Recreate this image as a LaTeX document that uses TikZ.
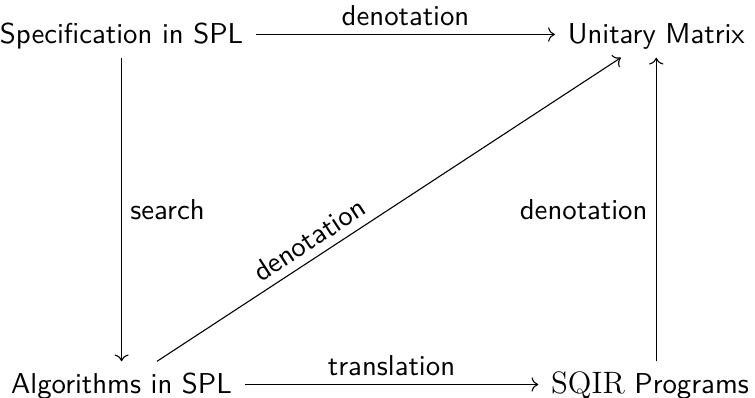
\documentclass[tikz,border=0pt]{standalone}
\usetikzlibrary{arrows.meta}

\begin{document}
\begin{tikzpicture}[every node/.style={font=\fontsize{10.5}{12.6}\sffamily},
    obj/.style={anchor=base,text height=1.6ex,text depth=.15ex,inner sep=4.5pt},
    lbl/.style={inner sep=3pt,text depth=0pt}]
    \useasboundingbox (0,0) rectangle (9.687,5.094);
    \node[obj] (spec) at (1.56,4.542) {Specification in SPL};
    \node[obj] (unit) at (8.42,4.542) {Unitary Matrix};
    \node[obj] (alg) at (1.56,0.051) {Algorithms in SPL};
    \node[obj] (sqir) at (8.34,0.051) {\textrm{\fontsize{11.3}{13}\selectfont SQIR} Programs};
    \draw[-{To}] (spec) -- node[lbl,above] {denotation} (unit);
    \draw[-{To}] (spec) -- node[lbl,right] {search} (alg);
    \draw[-{To}] (alg) -- node[lbl,above,sloped,pos=0.35] {denotation} (unit);
    \draw[-{To}] (alg) -- node[lbl,above] {translation} (sqir);
    \draw[-{To}] (sqir.north -| unit) -- node[lbl,left] {denotation} (unit);
  \end{tikzpicture}
\end{document}
